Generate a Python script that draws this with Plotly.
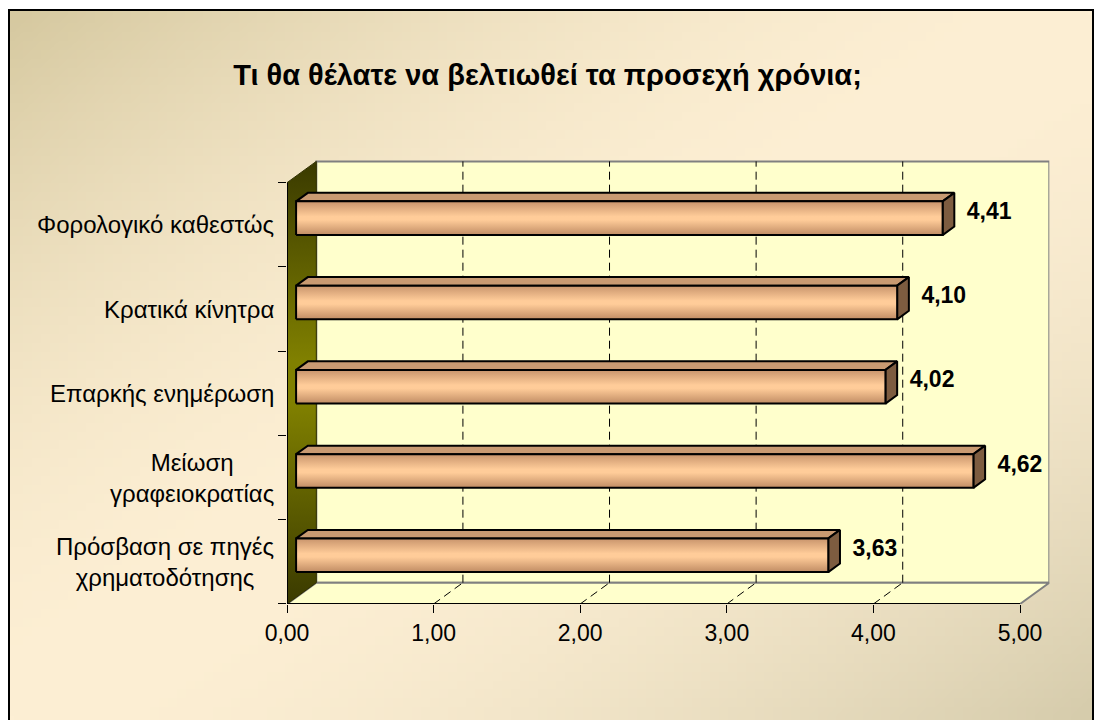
import base64, struct, zlib
import plotly.graph_objects as go

# ---------------- data ----------------
categories = ["Πρόσβαση σε πηγές<br>χρηματοδότησης", "Μείωση<br>γραφειοκρατίας",
              "Επαρκής ενημέρωση", "Κρατικά κίνητρα", "Φορολογικό καθεστώς"]
values = [3.63, 4.62, 4.02, 4.10, 4.41]
x_ticks = [0, 1, 2, 3, 4, 5]
x_tick_labels = ["0,00", "1,00", "2,00", "3,00", "4,00", "5,00"]
title_text = "Τι θα θέλατε να βελτιωθεί τα προσεχή χρόνια;"

# ---------------- geometry (3D look) ----------------
W, H = 1095, 720
PX_X = 146.6          # px per value unit
PX_Y = 84.26          # px per category band
X0_PX, Y0_PX = 287, 604
DX, DY = 0.2, 0.253   # depth offset in data units
Z0, Z1 = 0.31, 0.71   # bar depth start / end (fraction of DX/DY)
HB = 0.2              # bar half height (band units)
XMAX, YMAX = 5.2, 4.78
XTOPV = 5
FONT = "Liberation Sans, Arial, sans-serif"


def make_png(w, h):
    tl = (214, 201, 160)
    br = (214, 204, 172)
    light = (253, 239, 212)
    rows = []
    for j in range(h):
        row = bytearray([0])
        for i in range(w):
            t = (i / (w - 1) + j / (h - 1)) / 2
            s = abs(2 * t - 1) ** 1.8
            end = tl if t < 0.5 else br
            for k in range(3):
                row.append(int(light[k] * (1 - s) + end[k] * s))
        rows.append(bytes(row))
    raw = b"".join(rows)

    def chunk(tag, data):
        c = struct.pack(">I", len(data)) + tag + data
        return c + struct.pack(">I", zlib.crc32(tag + data) & 0xffffffff)

    png = b"\x89PNG\r\n\x1a\n"
    png += chunk(b"IHDR", struct.pack(">IIBBBBB", w, h, 8, 2, 0, 0, 0))
    png += chunk(b"IDAT", zlib.compress(raw, 9))
    png += chunk(b"IEND", b"")
    return "data:image/png;base64," + base64.b64encode(png).decode()


fig = go.Figure()


def poly(xs, ys, fill=None, line_color="black", line_width=1, grad=None):
    xs = list(xs) + [xs[0]]
    ys = list(ys) + [ys[0]]
    kw = dict(x=xs, y=ys, mode="lines", fill="toself",
              line=dict(color=line_color, width=line_width),
              hoverinfo="skip", showlegend=False)
    if grad is not None:
        kw["fillgradient"] = dict(type="vertical", colorscale=grad)
    else:
        kw["fillcolor"] = fill
    fig.add_trace(go.Scatter(**kw))


def seg(xs, ys, color="black", width=1, dash=None):
    fig.add_trace(go.Scatter(x=xs, y=ys, mode="lines",
                             line=dict(color=color, width=width, dash=dash),
                             hoverinfo="skip", showlegend=False))


ylo = -0.5
yhi = len(categories) - 0.5

# back wall
poly([DX, XTOPV + DX, XTOPV + DX, DX], [ylo + DY, ylo + DY, yhi + DY, yhi + DY],
     fill="#ffffcc", line_color="#808080", line_width=2)
# floor
poly([0, XTOPV, XTOPV + DX, DX], [ylo, ylo, ylo + DY, ylo + DY],
     fill="#ffffcc", line_color="#808080", line_width=2)
# left wall
poly([0, 0, DX, DX], [ylo, yhi, yhi + DY, ylo + DY],
     line_color="#303000", line_width=1,
     grad=[[0, "#3a3a00"], [0.45, "#808000"], [0.55, "#808000"], [1, "#3a3a00"]])

# grid lines
for xv in x_ticks[1:-1]:
    seg([xv + DX, xv + DX], [ylo + DY, yhi + DY], dash="8px,5px")
    seg([xv, xv + DX], [ylo, ylo + DY], dash="8px,5px")

# front edges (axes)
seg([0, XTOPV], [ylo, ylo], width=2)
seg([0, 0], [ylo, yhi], width=2)

# bars
bar_grad = [[0, "#c08c64"], [0.45, "#ffcc99"], [0.55, "#ffcc99"], [1, "#c8946c"]]
for i, v in enumerate(values):
    xa = Z0 * DX
    xb = Z1 * DX
    ya = Z0 * DY
    yb = Z1 * DY
    # top face
    poly([xa, xa + v, xb + v, xb], [i + HB + ya, i + HB + ya, i + HB + yb, i + HB + yb],
         fill="#c99a72", line_width=2)
    # end (side) face
    poly([xa + v, xb + v, xb + v, xa + v], [i - HB + ya, i - HB + yb, i + HB + yb, i + HB + ya],
         fill="#7d5c40", line_width=2)
    # front face
    poly([xa, xa + v, xa + v, xa], [i - HB + ya, i - HB + ya, i + HB + ya, i + HB + ya],
         line_width=2, grad=bar_grad)

# data labels
fig.add_trace(go.Scatter(
    x=[v + 0.38 for v in values], y=[i + 0.14 for i in range(len(values))],
    mode="text", text=[f"{v:.2f}".replace(".", ",") for v in values],
    textposition="middle center",
    textfont=dict(family=FONT, size=23, color="black", weight="bold"),
    hoverinfo="skip", showlegend=False))

# category labels
annotations = []
for i, c in enumerate(categories):
    annotations.append(dict(x=0, y=i, xref="x", yref="y", text=c, showarrow=False,
                            xanchor="right", yanchor="middle", align="center", xshift=-11,
                            font=dict(family=FONT, size=24, color="black")))

fig.update_layout(
    width=W, height=H,
    margin=dict(l=0, r=0, t=0, b=0, pad=0, autoexpand=False),
    paper_bgcolor="white",
    plot_bgcolor="rgba(0,0,0,0)",
    title=dict(text=title_text, x=0.5, xanchor="center", y=1 - 75 / H, yanchor="middle",
               font=dict(family=FONT, size=29, color="black", weight="bold")),
    xaxis=dict(domain=[X0_PX / W, (X0_PX + XMAX * PX_X) / W], range=[0, XMAX],
               showgrid=False, zeroline=False, showline=False, automargin=False,
               tickmode="array", tickvals=x_ticks, ticktext=x_tick_labels,
               ticks="outside", ticklen=8, tickcolor="black", tickwidth=1,
               tickfont=dict(family=FONT, size=23, color="black"),
               fixedrange=True),
    yaxis=dict(domain=[(H - Y0_PX) / H, (H - (Y0_PX - (YMAX + 0.5) * PX_Y)) / H],
               range=[ylo, YMAX], showgrid=False, zeroline=False, showline=False,
               automargin=False,
               tickmode="array", tickvals=[k - 0.5 for k in range(len(categories) + 1)],
               ticktext=[""] * (len(categories) + 1),
               ticks="outside", ticklen=8, tickcolor="black", tickwidth=1,
               fixedrange=True),
    annotations=annotations,
    images=[dict(source=make_png(120, 80), xref="paper", yref="paper",
                 x=9 / W, y=1 - 10 / H, sizex=(1093 - 9) / W, sizey=(H - 10) / H,
                 xanchor="left", yanchor="top", sizing="stretch", layer="below")],
    shapes=[dict(type="rect", xref="paper", yref="paper",
                 x0=9 / W, x1=1093 / W, y0=-0.01, y1=1 - 10 / H,
                 line=dict(color="black", width=2), fillcolor="rgba(0,0,0,0)")],
)

fig.write_html("out.html")
